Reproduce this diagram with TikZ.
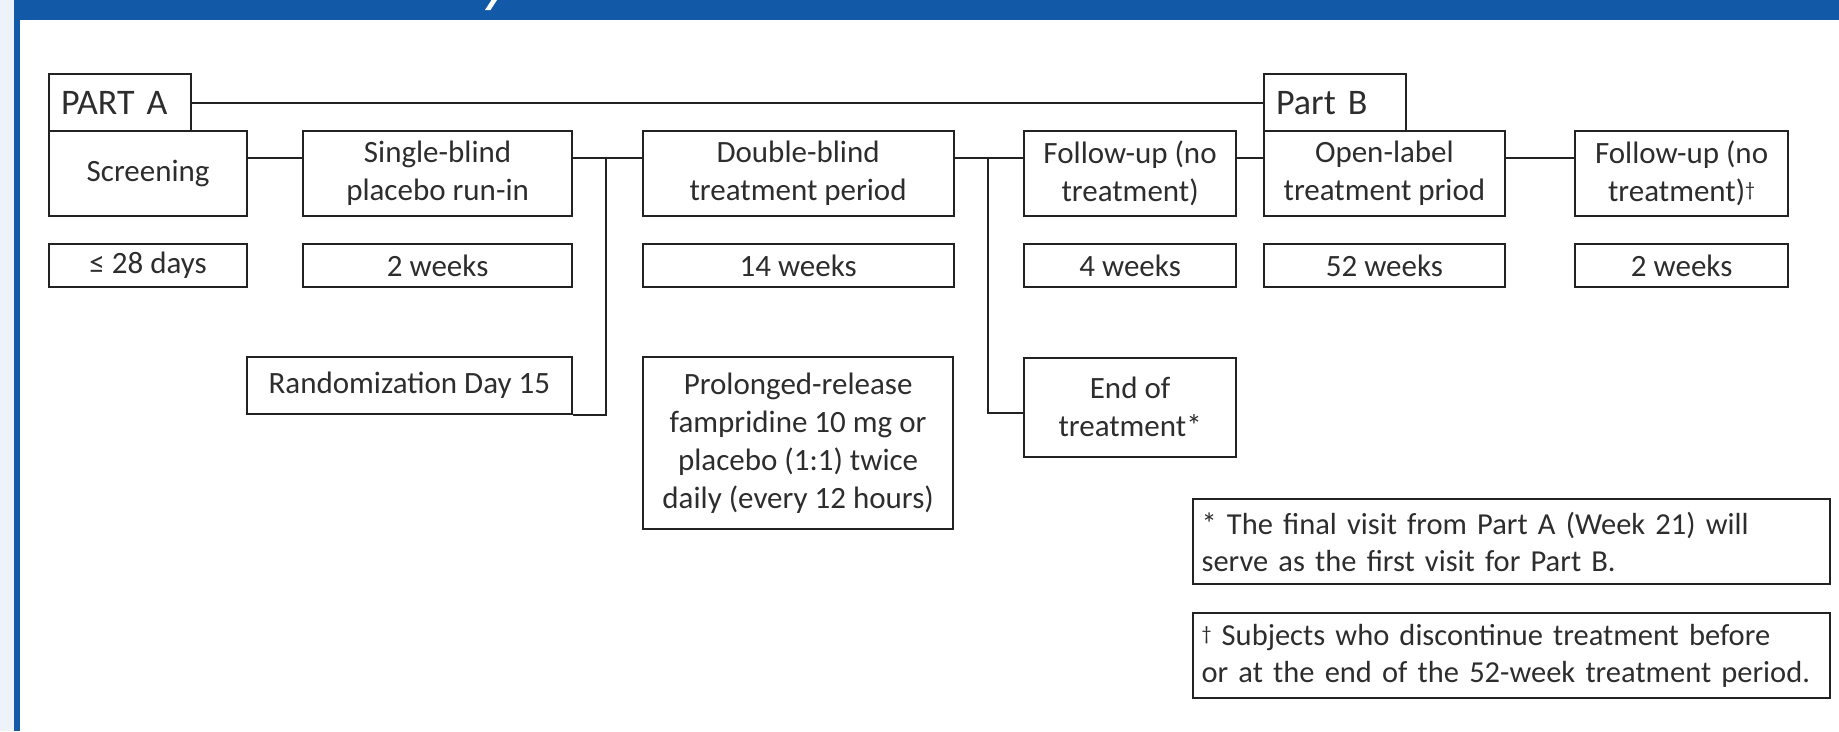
\documentclass[tikz,border=0pt]{standalone}
\usepackage{fontspec}
\setmainfont{Carlito}
\definecolor{bandblue}{RGB}{18,90,168}
\definecolor{paleblue}{RGB}{238,242,250}
\definecolor{ink}{RGB}{34,34,34}
\definecolor{txt}{RGB}{45,45,45}
\newcommand{\mydagger}{\raisebox{0.35ex}{\fontsize{20}{20}\selectfont †}}
\begin{document}
\begin{tikzpicture}[x=1pt,y=-1pt,
  box/.style={draw=ink, line width=2.2pt, rectangle, inner sep=0pt, anchor=north west,
    align=center, text=txt, font=\fontsize{31}{38}\selectfont},
  hdr/.style={box, font=\fontsize{36}{40}\selectfont, text width=118pt, inner xsep=12pt, align=left},
  note/.style={box, font=\fontsize{30.5}{37}\selectfont, text width=620pt, inner xsep=8.5pt, align=left, minimum height=85pt},
  link/.style={draw=ink, line width=2.2pt}]
\useasboundingbox (0,0) rectangle (1839,731);
% frame
\fill[paleblue] (0,0) rectangle (14,731);
\fill[bandblue] (14,0) rectangle (1839,20);
\fill[bandblue] (14,0) rectangle (20,731);
\fill[white] (485,10) -- (490.5,10) -- (497,0) -- (491.5,0) -- cycle;
% headers
\node[hdr, minimum height=57pt] (partA) at (48,73) {PART A};
\node[hdr, minimum height=57pt] (partB) at (1263,73) {Part B};
% top row
\node[box, minimum width=198pt, minimum height=85pt] (scr) at (48,130) {Screening};
\node[box, minimum width=269pt, minimum height=85pt] (sb) at (302,130) {Single-blind\\placebo run-in};
\node[box, minimum width=311pt, minimum height=85pt] (db) at (641.5,130) {Double-blind\\treatment period};
\node[box, minimum width=212pt, minimum height=85pt] (fu) at (1023,130) {Follow-up (no\\treatment)};
\node[box, minimum width=240.6pt, minimum height=85pt] (ol) at (1263,130) {Open-label\\treatment priod};
\node[box, minimum width=213pt, minimum height=85pt] (fu2) at (1574,130) {Follow-up (no\\treatment)\mydagger};
% durations
\node[box, minimum width=198pt, minimum height=43pt] (d1) at (48,243) {≤ 28 days};
\node[box, minimum width=269pt, minimum height=43pt] (d2) at (302,243) {2 weeks};
\node[box, minimum width=311pt, minimum height=43pt] (d3) at (641.5,243) {14 weeks};
\node[box, minimum width=212pt, minimum height=43pt] (d4) at (1023,243) {4 weeks};
\node[box, minimum width=240.6pt, minimum height=43pt] (d5) at (1263,243) {52 weeks};
\node[box, minimum width=213pt, minimum height=43pt] (d6) at (1574,243) {2 weeks};
% lower row
\node[box, minimum width=325.5pt, minimum height=57pt] (rand) at (245.5,356) {Randomization Day 15};
\node[box, minimum width=310pt, minimum height=172pt] (prol) at (642,356) {Prolonged-release\\fampridine 10 mg or\\placebo (1:1) twice\\daily (every 12 hours)};
\node[box, minimum width=212pt, minimum height=99pt] (eot) at (1023,356.7) {End of\\treatment*};
% notes
\node[note] (n1) at (1192,498) {* The final visit from Part A (Week 21) will\\serve as the first visit for Part B.};
\node[note] (n2) at (1192,612) {\mydagger\ Subjects who discontinue treatment before\\or at the end of the 52-week treatment period.};
% connectors
\coordinate (yA) at (0,158);
\coordinate (yB) at (0,413);
\coordinate (v1) at (606,158);
\coordinate (v2) at (988,158);
\draw[link] (partA.east) -- (partB.west);
\draw[link] (scr.east |- yA) -- (sb.west |- yA);
\draw[link] (sb.east |- yA) -- (db.west |- yA);
\draw[link] (v1) |- (rand.south east);
\draw[link] (db.east |- yA) -- (fu.west |- yA);
\draw[link] (v2) |- (eot.west |- yB);
\draw[link] (fu.east |- yA) -- (ol.west |- yA);
\draw[link] (ol.east |- yA) -- (fu2.west |- yA);
\end{tikzpicture}
\end{document}
